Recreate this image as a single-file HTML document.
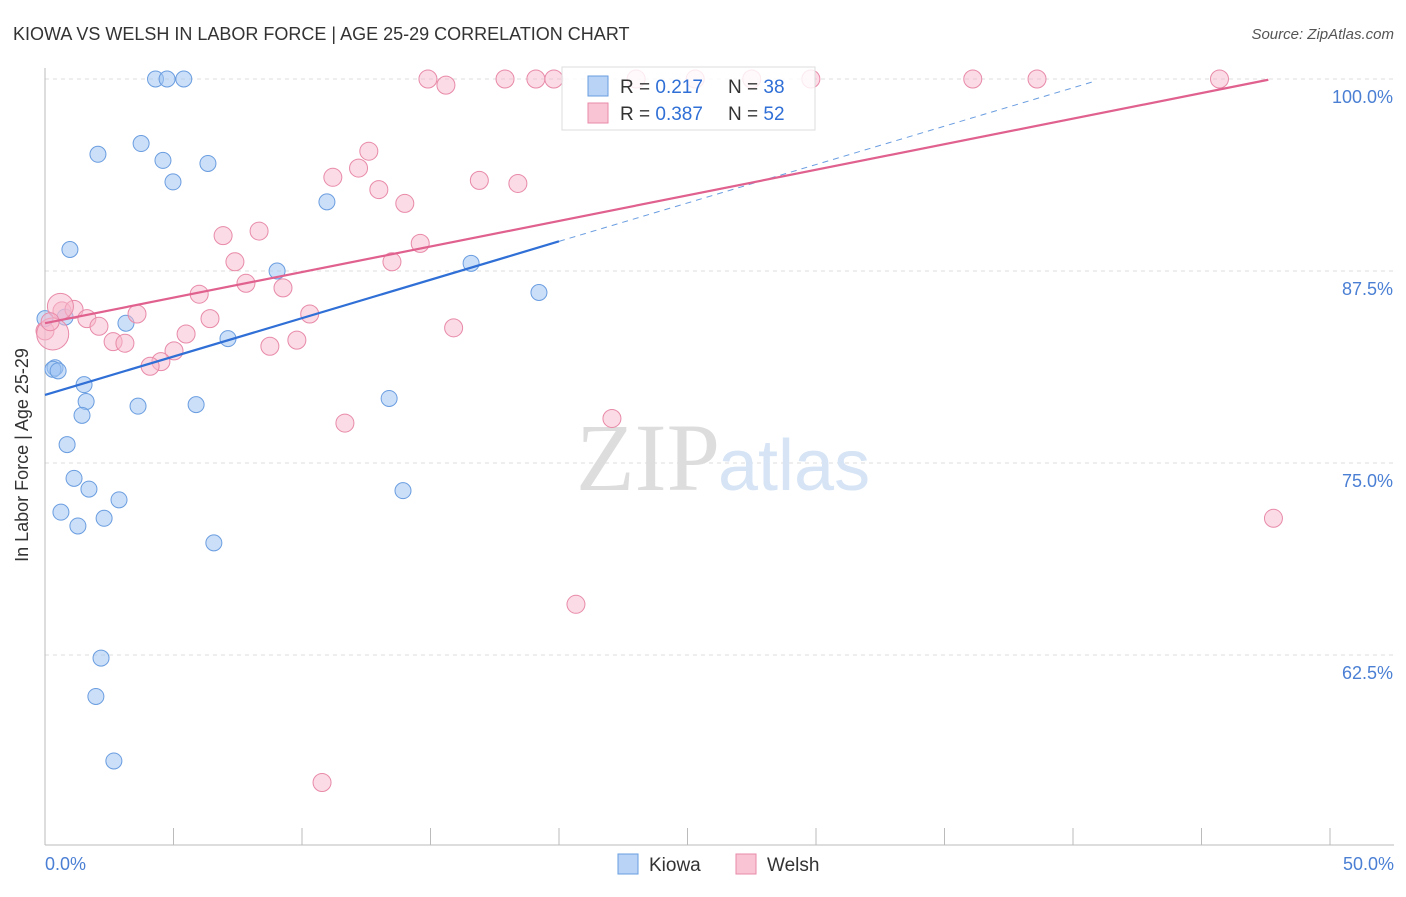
<!DOCTYPE html>
<html><head><meta charset="utf-8"><style>
body{margin:0;background:#fff;font-family:"Liberation Sans",sans-serif}
</style></head><body>
<svg width="1406" height="892" viewBox="0 0 1406 892" xmlns="http://www.w3.org/2000/svg" font-family="Liberation Sans, sans-serif">
<text x="13" y="40" font-size="18" fill="#333">KIOWA VS WELSH IN LABOR FORCE | AGE 25-29 CORRELATION CHART</text>
<text x="1394" y="39" font-size="15" fill="#555" text-anchor="end" font-style="italic">Source: ZipAtlas.com</text>
<g id="grid"></g>
<text x="720" y="490" font-size="96" fill="#ddd" text-anchor="end" font-family="Liberation Serif, serif">ZIP</text>
<text x="718" y="490" font-size="72" fill="#d6e4f5">atlas</text>
<line x1="45" y1="68" x2="45" y2="845" stroke="#bbb"/>
<line x1="45" y1="845" x2="1394" y2="845" stroke="#bbb"/>
<g id="xt"></g>
<g id="pts"></g>
<g id="lines"></g>
<text x="28" y="455" font-size="18" fill="#333" text-anchor="middle" transform="rotate(-90 28 455)">In Labor Force | Age 25-29</text>
<text x="45" y="870" font-size="18" fill="#4a7fd4">0.0%</text>
<text x="1394" y="870" font-size="18" fill="#4a7fd4" text-anchor="end">50.0%</text>
<g>
<rect x="562" y="67" width="253" height="63" fill="#fff" fill-opacity="0.82" stroke="#ddd"/>
<rect x="588" y="76" width="20" height="20" fill="#b8d3f5" stroke="#6a9de0"/>
<rect x="588" y="103" width="20" height="20" fill="#f9c5d5" stroke="#e88aa8"/>
<text x="620" y="93" font-size="19" fill="#333">R = <tspan fill="#2f6fd6">0.217</tspan><tspan x="728">N = </tspan><tspan fill="#2f6fd6">38</tspan></text>
<text x="620" y="120" font-size="19" fill="#333">R = <tspan fill="#2f6fd6">0.387</tspan><tspan x="728">N = </tspan><tspan fill="#2f6fd6">52</tspan></text>
</g>
<g>
<rect x="618" y="854" width="20" height="20" fill="#b8d3f5" stroke="#6a9de0"/>
<text x="649" y="871" font-size="19" fill="#333">Kiowa</text>
<rect x="736" y="854" width="20" height="20" fill="#f9c5d5" stroke="#e88aa8"/>
<text x="767" y="871" font-size="19" fill="#333">Welsh</text>
</g>
</svg>
<script>
const yTicks=[100,87.5,75,62.5];
const yTickLabels=["100.0%","87.5%","75.0%","62.5%"];
const xTicks=[0,5,10,15,20,25,30,35,40,45,50];
const kiowaX=[4.3,4.75,5.4,3.74,2.06,4.59,6.34,4.98,10.97,0.97,9.03,16.58,19.22,0,0.78,3.15,7.12,0.39,0.31,0.51,1.52,1.6,3.62,5.88,13.39,1.44,0.86,1.13,1.71,2.88,13.93,0.62,2.3,1.28,6.57,2.18,1.98,2.68];
const kiowaY=[100,100,100,95.8,95.1,94.7,94.5,93.3,92.0,88.9,87.5,88.0,86.1,84.4,84.5,84.1,83.1,81.2,81.1,81.0,80.1,79.0,78.7,78.8,79.2,78.1,76.2,74.0,73.3,72.6,73.2,71.8,71.4,70.9,69.8,62.3,59.8,55.6];
const welshX=[14.9,15.6,17.9,19.1,19.8,23.0,25.3,27.5,29.8,36.1,38.6,45.7,12.6,12.2,11.2,16.9,18.4,12.99,14.0,6.93,8.33,14.6,7.39,13.5,7.82,9.26,6.0,0.66,1.13,3.58,6.42,10.3,1.63,2.1,0,5.49,15.9,2.65,3.11,9.8,8.75,5.02,4.51,4.09,11.67,22.06,47.8,20.66,10.78,0.3,0.6,0.2];
const welshY=[100,99.6,100,100,100,100,100,100,100,100,100,100,95.3,94.2,93.6,93.4,93.2,92.8,91.9,89.8,90.1,89.3,88.1,88.1,86.7,86.4,85.99,84.9,85.0,84.7,84.4,84.7,84.4,83.9,83.6,83.4,83.8,82.9,82.8,83.0,82.6,82.3,81.6,81.3,77.6,77.9,71.4,65.8,54.2,83.4,85.2,84.2];
const welshR=[9,9,9,9,9,9,9,9,9,9,9,9,9,9,9,9,9,9,9,9,9,9,9,9,9,9,9,9,9,9,9,9,9,9,9,9,9,9,9,9,9,9,9,9,9,9,9,9,9,16,13,9];
const NS="http://www.w3.org/2000/svg";
const X=v=>45+v*25.7, Y=v=>79+(100-v)*15.36;
function mk(t,a,p){const e=document.createElementNS(NS,t);for(const k in a)e.setAttribute(k,a[k]);document.getElementById(p).appendChild(e);return e;}
yTicks.forEach((t,i)=>{
 const l=mk('line',{x1:45,x2:1394,y1:Y(t),y2:Y(t),stroke:'#ddd','stroke-dasharray':'4 4'},'grid');
 
 
 const tx=mk('text',{x:1393,y:Y(t)+24,'font-size':18,fill:'#4a7fd4','text-anchor':'end'},'grid');
 tx.textContent=yTickLabels[i];
 
 
});
xTicks.forEach(t=>{
 const l=mk('line',{x1:X(t),x2:X(t),y1:828,y2:845,stroke:'#bbb'},'xt');
 
 
});
kiowaX.forEach((v,i)=>{
 const c=mk('circle',{cx:X(v),cy:Y(kiowaY[i]),r:8,fill:'rgba(160,196,242,0.55)',stroke:'#6a9de0','stroke-width':1},'pts');
 
 
});
welshX.forEach((v,i)=>{
 const c=mk('circle',{cx:X(v),cy:Y(welshY[i]),r:welshR[i],fill:'rgba(248,184,204,0.5)',stroke:'#e88aa8','stroke-width':1},'pts');
 
 
});
const kb=[79.43,0.50];
let l1=mk('line',{x1:X(0),y1:Y(kb[0]),x2:X(20),y2:Y(kb[0]+20*kb[1]),stroke:'#2f6fd6','stroke-width':2.2},'lines');


let l2=mk('line',{x1:X(20),y1:Y(kb[0]+20*kb[1]),x2:X(40.8),y2:Y(kb[0]+40.8*kb[1]),stroke:'#6a9de0','stroke-width':1,'stroke-dasharray':'6 5'},'lines');


const wb=[84.1,0.333];
let l3=mk('line',{x1:X(0),y1:Y(wb[0]),x2:X(47.6),y2:Y(wb[0]+47.6*wb[1]),stroke:'#e0608e','stroke-width':2.2},'lines');


</script>
</body></html>
